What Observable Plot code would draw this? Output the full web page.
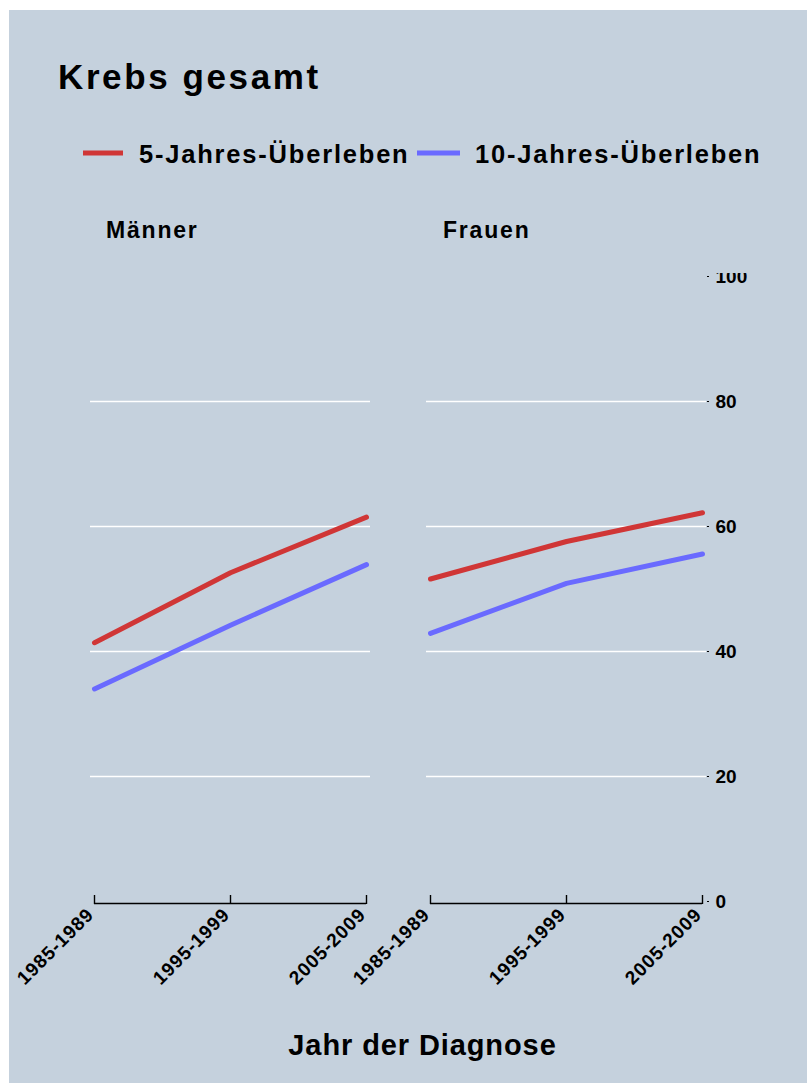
<!DOCTYPE html>
<html>
<head>
<meta charset="utf-8">
<script src="https://cdn.jsdelivr.net/npm/d3@7"></script>
<script src="https://cdn.jsdelivr.net/npm/@observablehq/plot@0.6"></script>
<style>
  html, body { margin: 0; padding: 0; background: #ffffff; }
  #frame { position: absolute; left: 9px; top: 10px; width: 798px; height: 1073px; background: #c5d1dd; overflow: hidden; }
  #deco { position: absolute; left: 0; top: 0; }
  #chart { position: absolute; left: 0; top: 263px; }
  #chart svg [aria-label="x-axis tick label"] text { letter-spacing: 0.9px; }
  text { font-family: "Liberation Sans", Arial, sans-serif; font-weight: bold; }
</style>
</head>
<body>
<div id="frame">
  <svg id="deco" width="798" height="1073"></svg>
  <div id="chart"></div>
</div>
<script>
// ---- data ----
const periods = ["1985-1989", "1995-1999", "2005-2009"];
const sexes = ["Männer", "Frauen"];
const seriesNames = ["5-Jahres-Überleben", "10-Jahres-Überleben"];
const men5 = [41.4, 52.6, 61.5];
const men10 = [34.0, 44.2, 53.9];
const women5 = [51.6, 57.6, 62.2];
const women10 = [42.9, 50.9, 55.6];
const yTicks = [0, 20, 40, 60, 80, 100];
const gridTicks = [20, 40, 60, 80];
const titleText = "Krebs gesamt";
const xTitle = "Jahr der Diagnose";

const FONT = '"Liberation Sans", Arial, sans-serif';
const RED = "#d03636";
const BLUE = "#6a6aff";

const bySex = {"Männer": [men5, men10], "Frauen": [women5, women10]};
const data = [];
for (const s of sexes) {
  bySex[s].forEach((vals, k) => {
    vals.forEach((v, i) => data.push({sex: s, period: periods[i], series: seriesNames[k], value: v}));
  });
}

// ---- header / labels ----
const deco = d3.select("#deco");
deco.append("text").attr("x", 49).attr("y", 79).attr("font-size", 35)
  .attr("letter-spacing", "2.6px").text(titleText);

const legendItems = [
  {name: seriesNames[0], color: RED, sx: 74, sw: 40, tx: 130},
  {name: seriesNames[1], color: BLUE, sx: 408, sw: 43, tx: 466}
];
for (const it of legendItems) {
  deco.append("rect").attr("x", it.sx).attr("y", 140.5).attr("width", it.sw).attr("height", 5).attr("fill", it.color);
  deco.append("text").attr("x", it.tx).attr("y", 153).attr("font-size", 25.5)
    .attr("letter-spacing", "1.8px").text(it.name);
}
const facetLabelX = [97, 434];
sexes.forEach((s, i) => {
  deco.append("text").attr("x", facetLabelX[i]).attr("y", 228).attr("font-size", 23)
    .attr("letter-spacing", "1.8px").text(s);
});
deco.append("text").attr("x", 413.5).attr("y", 1045).attr("font-size", 29)
  .attr("text-anchor", "middle").attr("letter-spacing", "0.9px").text(xTitle);

// ---- chart ----
const firstPeriod = periods[0];
const lastPeriod = periods[periods.length - 1];
const chart = Plot.plot({
  width: 798,
  height: 728,
  marginLeft: 80,
  marginRight: 100,
  marginTop: 3,
  marginBottom: 100,
  style: {background: "transparent", fontFamily: FONT, fontWeight: "bold", color: "black", overflow: "hidden"},
  fx: {domain: sexes, paddingInner: 0.166, paddingOuter: 0, axis: null, label: null},
  x: {domain: periods, type: "point", padding: 0.022, label: null},
  y: {domain: [0, 100], label: null},
  color: {domain: seriesNames, range: [RED, BLUE]},
  marks: [
    Plot.ruleY(gridTicks, {stroke: "white", strokeWidth: 1.3}),
    Plot.axisY({anchor: "right", ticks: yTicks, tickSize: 2, tickPadding: 7, fontSize: 19, label: null}),
    Plot.ruleY([0], {x1: () => firstPeriod, x2: () => lastPeriod, dy: 2, stroke: "black", strokeWidth: 1.4}),
    Plot.axisX({anchor: "top", frameAnchor: "bottom", tickSize: 9, tickFormat: () => "", dy: 2, label: null, strokeWidth: 1.4}),
    Plot.axisX({anchor: "bottom", tickSize: 0, tickPadding: 10, tickRotate: -45, lineAnchor: "middle", dx: -4, fontSize: 19, label: null}),
    Plot.lineY(data, {fx: "sex", x: "period", y: "value", z: "series", stroke: "series", strokeWidth: 5})
  ]
});
document.getElementById("chart").appendChild(chart);
</script>
</body>
</html>
